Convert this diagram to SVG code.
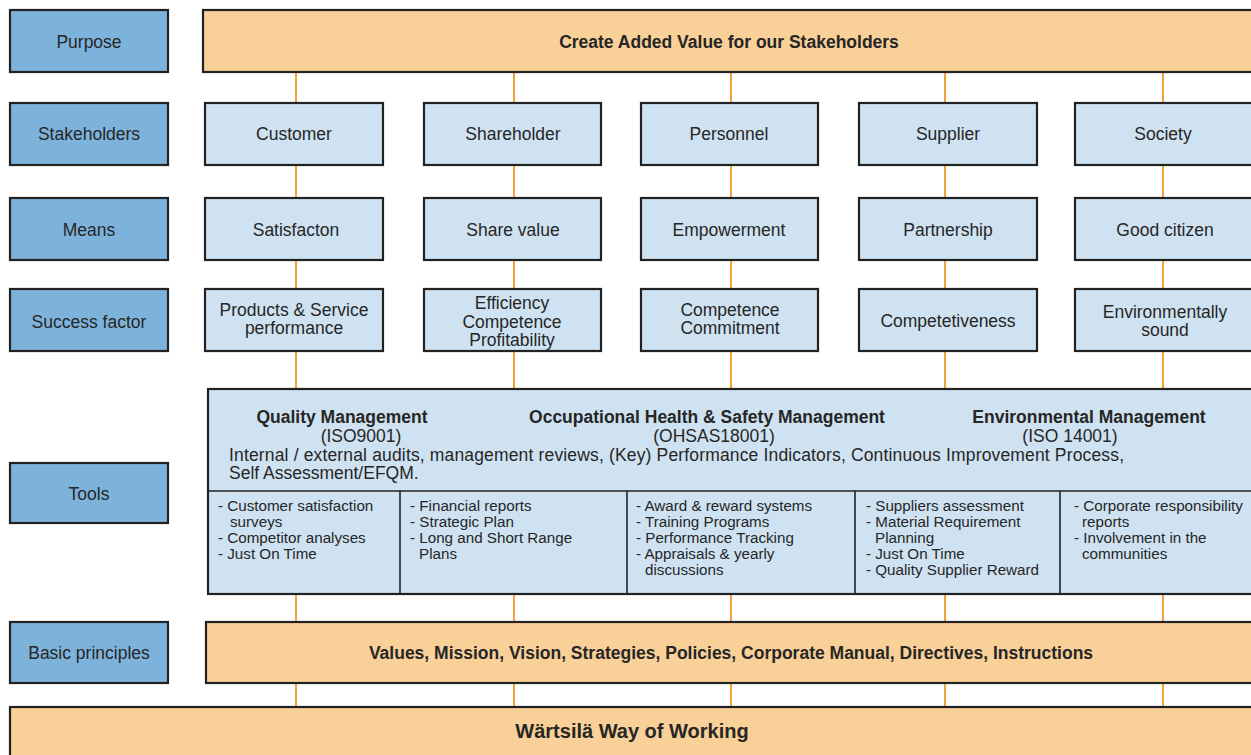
<svg xmlns="http://www.w3.org/2000/svg" width="1251" height="755" viewBox="0 0 1251 755">
<style>
text{font-family:"Liberation Sans",Arial,sans-serif;fill:#262626;}
.lab{fill:#7db3db;stroke:#222;stroke-width:2.2;}
.nd{fill:#cfe2f1;stroke:#222;stroke-width:2.2;}
.or{fill:#f9d097;stroke:#222;stroke-width:2.2;}
.t{font-size:17.5px;text-anchor:middle;}
.b{font-size:17.5px;font-weight:bold;text-anchor:middle;}
.s{font-size:15.2px;}
.con line{stroke:#f2a23a;stroke-width:2;}
.div{stroke:#222;stroke-width:1.6;}
</style>
<rect width="1251" height="755" fill="#fff"/>
<g id="connectors" class="con">
<line x1="296" y1="72" x2="296" y2="707"/>
<line x1="514" y1="72" x2="514" y2="707"/>
<line x1="731" y1="72" x2="731" y2="707"/>
<line x1="945" y1="72" x2="945" y2="707"/>
<line x1="1163" y1="72" x2="1163" y2="707"/>
</g>
<g id="lab-purpose"><rect class="lab" x="10" y="10" width="158" height="62"/><text class="t" x="89" y="48">Purpose</text></g>
<g id="lab-stakeholders"><rect class="lab" x="10" y="103" width="158" height="62"/><text class="t" x="89" y="140">Stakeholders</text></g>
<g id="lab-means"><rect class="lab" x="10" y="198" width="158" height="62"/><text class="t" x="89" y="236">Means</text></g>
<g id="lab-success"><rect class="lab" x="10" y="289" width="158" height="62"/><text class="t" x="89" y="328">Success factor</text></g>
<g id="lab-tools"><rect class="lab" x="10" y="463" width="158" height="60"/><text class="t" x="89" y="500">Tools</text></g>
<g id="lab-basic"><rect class="lab" x="10" y="622" width="158" height="61"/><text class="t" x="89" y="659">Basic principles</text></g>

<g id="purpose"><rect class="or" x="203" y="10" width="1060" height="62"/><text class="b" x="729" y="48">Create Added Value for our Stakeholders</text></g>

<g id="customer"><rect class="nd" x="205" y="103" width="178" height="62"/><text class="t" x="294" y="140">Customer</text></g>
<g id="shareholder"><rect class="nd" x="424" y="103" width="177" height="62"/><text class="t" x="513" y="140">Shareholder</text></g>
<g id="personnel"><rect class="nd" x="641" y="103" width="177" height="62"/><text class="t" x="729" y="140">Personnel</text></g>
<g id="supplier"><rect class="nd" x="859" y="103" width="178" height="62"/><text class="t" x="948" y="140">Supplier</text></g>
<g id="society"><rect class="nd" x="1075" y="103" width="190" height="62"/><text class="t" x="1163" y="140">Society</text></g>

<g id="satisfaction"><rect class="nd" x="205" y="198" width="178" height="62"/><text class="t" x="296" y="236">Satisfacton</text></g>
<g id="sharevalue"><rect class="nd" x="424" y="198" width="177" height="62"/><text class="t" x="513" y="236">Share value</text></g>
<g id="empowerment"><rect class="nd" x="641" y="198" width="177" height="62"/><text class="t" x="729" y="236">Empowerment</text></g>
<g id="partnership"><rect class="nd" x="859" y="198" width="178" height="62"/><text class="t" x="948" y="236">Partnership</text></g>
<g id="goodcitizen"><rect class="nd" x="1075" y="198" width="190" height="62"/><text class="t" x="1165" y="236">Good citizen</text></g>

<g id="products"><rect class="nd" x="205" y="289" width="178" height="62"/><text class="t" x="294" y="316">Products &amp; Service</text><text class="t" x="294" y="334">performance</text></g>
<g id="efficiency"><rect class="nd" x="424" y="289" width="177" height="62"/><text class="t" x="512" y="309">Efficiency</text><text class="t" x="512" y="327.5">Competence</text><text class="t" x="512" y="346">Profitability</text></g>
<g id="competence"><rect class="nd" x="641" y="289" width="177" height="62"/><text class="t" x="730" y="316">Competence</text><text class="t" x="730" y="334">Commitment</text></g>
<g id="competetiveness"><rect class="nd" x="859" y="289" width="178" height="62"/><text class="t" x="948" y="327">Competetiveness</text></g>
<g id="environmentally"><rect class="nd" x="1075" y="289" width="190" height="62"/><text class="t" x="1165" y="318">Environmentally</text><text class="t" x="1165" y="336">sound</text></g>

<g id="tools">
<rect class="nd" x="208" y="389" width="1060" height="205"/>
<line class="div" x1="208" y1="491" x2="1260" y2="491"/>
<line class="div" x1="400" y1="491" x2="400" y2="594"/>
<line class="div" x1="627" y1="491" x2="627" y2="594"/>
<line class="div" x1="855" y1="491" x2="855" y2="594"/>
<line class="div" x1="1060" y1="491" x2="1060" y2="594"/>
<text class="b" x="342" y="423">Quality Management</text>
<text class="t" x="361" y="442">(ISO9001)</text>
<text class="b" x="707" y="423">Occupational Health &amp; Safety Management</text>
<text class="t" x="714" y="442">(OHSAS18001)</text>
<text class="b" x="1089" y="423">Environmental Management</text>
<text class="t" x="1070" y="442">(ISO 14001)</text>
<text style="font-size:17.5px" x="229" y="461" textLength="895" lengthAdjust="spacing">Internal / external audits, management reviews, (Key) Performance Indicators, Continuous Improvement Process,</text>
<text style="font-size:17.5px" x="229" y="479">Self Assessment/EFQM.</text>
<g class="s">
<text class="s" x="218" y="511">- Customer satisfaction</text>
<text class="s" x="230" y="527">surveys</text>
<text class="s" x="218" y="543">- Competitor analyses</text>
<text class="s" x="218" y="559">- Just On Time</text>
<text class="s" x="410" y="511">- Financial reports</text>
<text class="s" x="410" y="527">- Strategic Plan</text>
<text class="s" x="410" y="543">- Long and Short Range</text>
<text class="s" x="419" y="559">Plans</text>
<text class="s" x="636" y="511">- Award &amp; reward systems</text>
<text class="s" x="636" y="527">- Training Programs</text>
<text class="s" x="636" y="543">- Performance Tracking</text>
<text class="s" x="636" y="559">- Appraisals &amp; yearly</text>
<text class="s" x="645" y="575">discussions</text>
<text class="s" x="866" y="511">- Suppliers assessment</text>
<text class="s" x="866" y="527">- Material Requirement</text>
<text class="s" x="875" y="543">Planning</text>
<text class="s" x="866" y="559">- Just On Time</text>
<text class="s" x="866" y="575">- Quality Supplier Reward</text>
<text class="s" x="1074" y="511">- Corporate responsibility</text>
<text class="s" x="1082" y="527">reports</text>
<text class="s" x="1074" y="543">- Involvement in the</text>
<text class="s" x="1082" y="559">communities</text>
</g>
</g>

<g id="basic"><rect class="or" x="206" y="622" width="1060" height="61"/><text class="b" x="731" y="659">Values, Mission, Vision, Strategies, Policies, Corporate Manual, Directives, Instructions</text></g>
<g id="wow"><rect class="or" x="10" y="707" width="1260" height="60"/><text class="b" style="font-size:20px" x="632" y="738">Wärtsilä Way of Working</text></g>
</svg>
